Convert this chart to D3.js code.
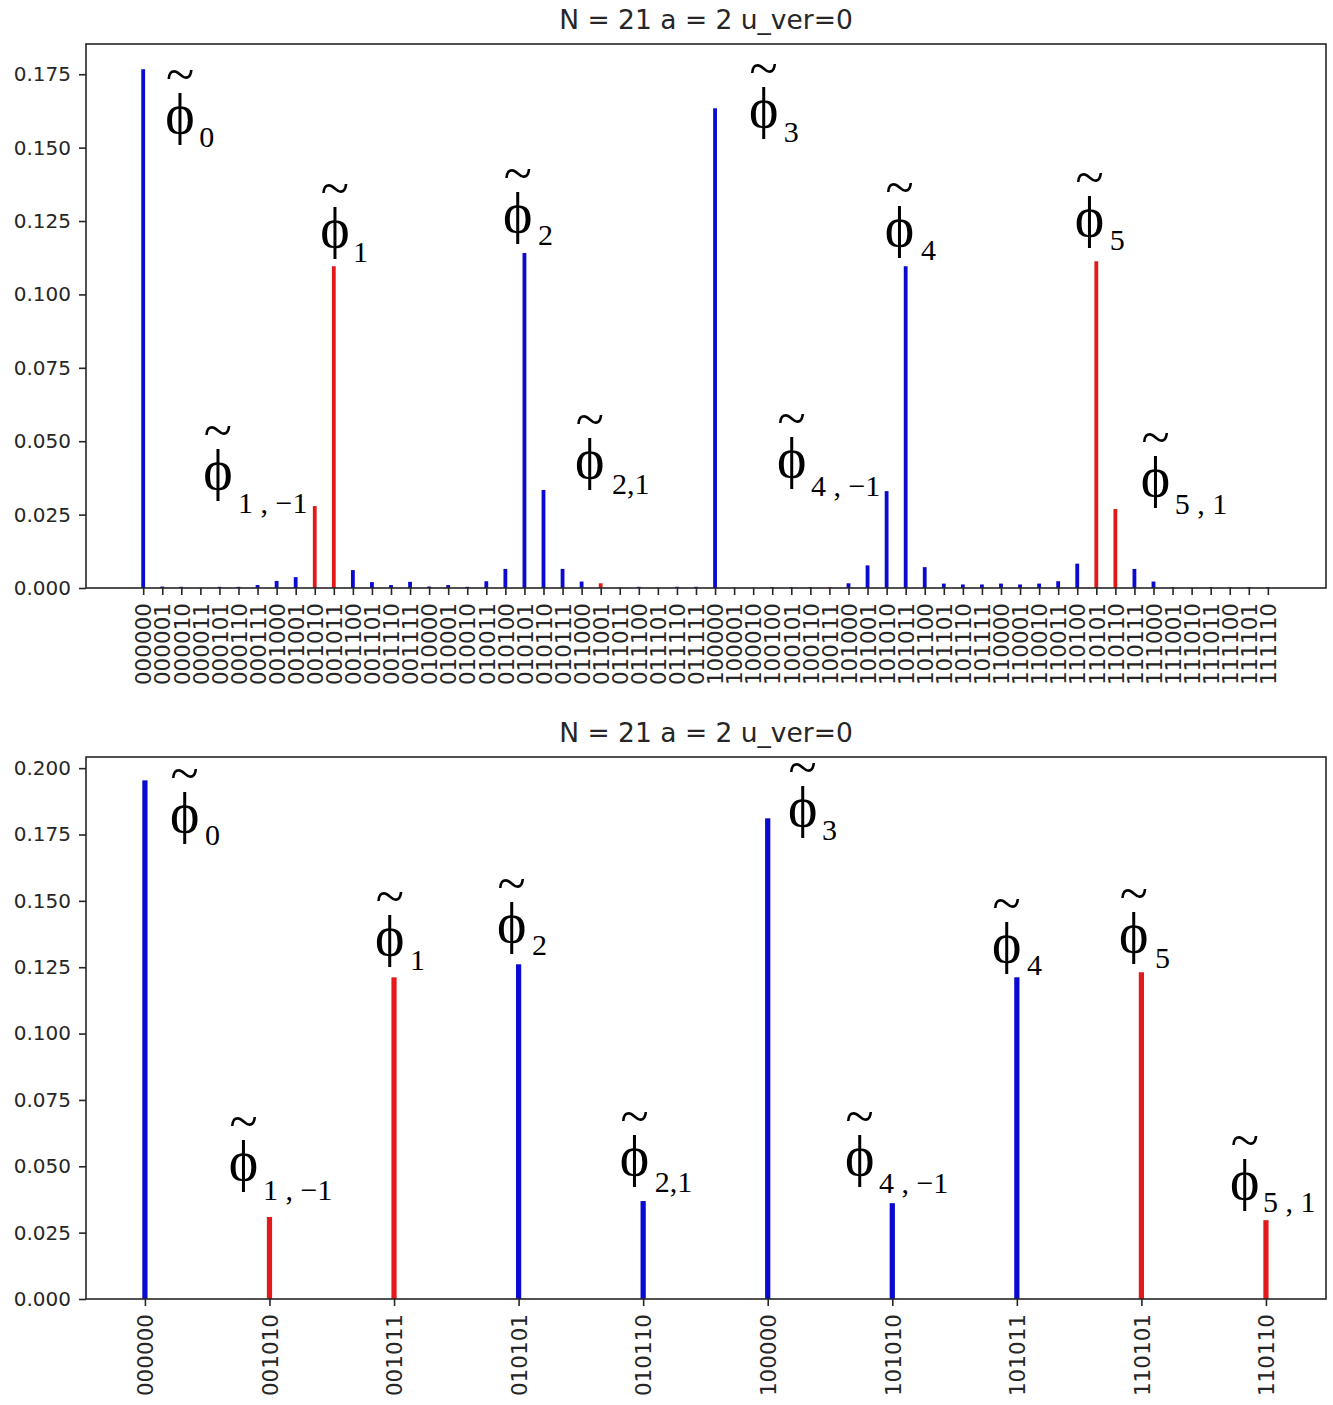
<!DOCTYPE html>
<html>
<head>
<meta charset="utf-8">
<script src="https://cdn.jsdelivr.net/npm/d3@7"></script>
<style>
  html, body { margin: 0; padding: 0; background: #fff; }
  svg { display: block; }
</style>
</head>
<body>
<svg id="chart" width="1333" height="1405"></svg>
<script>
// ---------------- DATA ----------------
const titleText = "N = 21 a = 2 u_ver=0";

const topLabels = [
  "000000","000001","000010","000011","000101","000110","000111","001000","001001","001010",
  "001011","001100","001101","001110","001111","010000","010001","010010","010011","010100",
  "010101","010110","010111","011000","011001","011011","011100","011101","011110","011111",
  "100000","100001","100010","100100","100101","100110","100111","101000","101001","101010",
  "101011","101100","101101","101110","101111","110000","110001","110010","110011","110100",
  "110101","110110","110111","111000","111001","111010","111011","111100","111101","111110"
];
const topValues = [
  0.1767,0.0005,0.0004,0.0001,0.0004,0.0004,0.0010,0.0024,0.0037,0.0279,
  0.1096,0.0061,0.0020,0.0010,0.0021,0.0005,0.0010,0.0004,0.0023,0.0065,
  0.1141,0.0334,0.0065,0.0022,0.0016,0.0001,0.0004,0.0001,0.0004,0.0004,
  0.1634,0.0001,0.0001,0.0003,0.0003,0.0003,0.0003,0.0016,0.0077,0.0330,
  0.1096,0.0071,0.0015,0.0012,0.0012,0.0015,0.0012,0.0015,0.0023,0.0083,
  0.1113,0.0269,0.0065,0.0022,0.0003,0.0001,0.0003,0.0002,0.0003,0.0003
];
const topRedLabels = ["001010","001011","011001","100111","110101","110110"];
const topYTicks = [0,0.025,0.05,0.075,0.1,0.125,0.15,0.175];

const bottomLabels = ["000000","001010","001011","010101","010110","100000","101010","101011","110101","110110"];
const bottomValues = [0.1954,0.0309,0.1212,0.1261,0.0369,0.1811,0.0361,0.1212,0.1231,0.0297];
const bottomRedLabels = ["001010","001011","110101","110110"];
const bottomYTicks = [0,0.025,0.05,0.075,0.1,0.125,0.15,0.175,0.2];

// annotation subscripts and their anchors in data coordinates (x index, y value)
const annSubs = ["0","1 , \u22121","1","2","2,1","3","4 , \u22121","4","5","5 , 1"];
const topAnnX    = [1.26, 3.25, 9.39, 18.98, 22.76, 31.88, 33.35, 39.01, 48.98, 52.44];
const topAnnY    = [0.1549,0.0337,0.1161,0.1212,0.0375,0.1570,0.0378,0.1164,0.1199,0.0313];
const topSubX    = [2.94, 4.98, 11.01, 20.71, 24.59, 33.61, 35.03, 40.80, 50.71, 54.12];
const topSubY    = [0.1502,0.0255,0.1110,0.1168,0.0320,0.1519,0.0313,0.1117,0.1151,0.0252];
const botAnnX    = [0.217,0.690,1.863,2.842,3.829,5.178,5.636,6.816,7.836,8.727];
const botAnnY    = [0.1758,0.0448,0.1295,0.1344,0.0467,0.1781,0.0467,0.1269,0.1306,0.0377];
const botSubX    = [0.482,0.947,2.128,3.107,4.094,5.435,5.893,7.081,8.109,8.976];
const botSubY    = [0.1709,0.0373,0.1239,0.1295,0.0403,0.1728,0.0399,0.1220,0.1246,0.0328];

// ---------------- DRAW ----------------
const svg = d3.select("#chart");
const BLUE = "#0a0ad0", RED = "#e41a1a", AX = "#262626";
const PHI_SIZE = 56, TILDE_SIZE = 52, SUB_SIZE = 30;

// measure phi glyph width
const probe = svg.append("text").attr("font-family", "Liberation Serif")
  .attr("font-size", PHI_SIZE).text("\u03D5");
const phiW = probe.node().getComputedTextLength();
probe.remove();

function panel(cfg) {
  const g = svg.append("g");
  const x = d3.scaleLinear().domain(cfg.xDomain).range([cfg.left, cfg.right]);
  const y = d3.scaleLinear().domain(cfg.yDomain).range([cfg.bottom, cfg.top]);
  const color = d3.scaleOrdinal().domain([false, true]).range([BLUE, RED]);
  const idx = d3.range(cfg.labels.length);

  // bars
  g.append("g").selectAll("rect").data(idx).join("rect")
    .attr("x", i => x(i - cfg.barW / 2))
    .attr("width", i => x(i + cfg.barW / 2) - x(i - cfg.barW / 2))
    .attr("y", i => y(cfg.values[i]))
    .attr("height", i => y(0) - y(cfg.values[i]))
    .attr("fill", i => color(cfg.red.includes(cfg.labels[i])));

  // y axis
  const ya = g.append("g").attr("transform", `translate(${cfg.left},0)`)
    .call(d3.axisLeft(y).tickValues(cfg.yTicks).tickFormat(d3.format(".3f")).tickSize(7).tickPadding(8));
  ya.select(".domain").remove();
  ya.selectAll("line").attr("stroke", AX).attr("stroke-width", 1.6);
  ya.selectAll("text").attr("font-family", "DejaVu Sans").attr("font-size", 20).attr("fill", AX);

  // x axis
  const xa = g.append("g").attr("transform", `translate(0,${cfg.bottom})`)
    .call(d3.axisBottom(x).tickValues(idx).tickFormat(i => cfg.labels[i]).tickSize(7));
  xa.select(".domain").remove();
  xa.selectAll("line").attr("stroke", AX).attr("stroke-width", 1.6);
  xa.selectAll("text")
    .attr("font-family", "DejaVu Sans").attr("font-size", 21.5).attr("fill", AX)
    .attr("transform", "rotate(-90)")
    .attr("x", -15).attr("y", 0).attr("dy", "0.36em")
    .style("text-anchor", "end");

  // frame
  g.append("rect").attr("x", cfg.left).attr("y", cfg.top)
    .attr("width", cfg.right - cfg.left).attr("height", cfg.bottom - cfg.top)
    .attr("fill", "none").attr("stroke", AX).attr("stroke-width", 1.6);

  // title
  g.append("text").attr("x", (cfg.left + cfg.right) / 2).attr("y", cfg.top - 15)
    .attr("text-anchor", "middle").attr("font-family", "DejaVu Sans").attr("font-size", 26.5)
    .attr("fill", AX).text(titleText);

  // annotations: one text element per label (phi, tilde, subscript as tspans)
  const ann = g.append("g").attr("font-family", "Liberation Serif").attr("fill", "#000");
  annSubs.forEach((s, k) => {
    const px = x(cfg.annX[k]) - 2, py = y(cfg.annY[k]);
    const t = ann.append("text").attr("x", px).attr("y", py).style("white-space", "pre");
    t.append("tspan").attr("font-size", PHI_SIZE).text("\u03D5");
    t.append("tspan").attr("x", px + phiW / 2).attr("y", py - 41)
      .attr("text-anchor", "middle").attr("font-size", TILDE_SIZE).text("~");
    t.append("tspan").attr("x", x(cfg.subX[k])).attr("y", y(cfg.subY[k]))
      .attr("text-anchor", "start").attr("font-size", SUB_SIZE).text(s);
  });
}

panel({
  labels: topLabels, values: topValues, red: topRedLabels, yTicks: topYTicks,
  xDomain: [-3.0, 62.05], yDomain: [0, 0.1853], barW: 0.2,
  left: 86, right: 1326, top: 44, bottom: 588,
  annX: topAnnX, annY: topAnnY, subX: topSubX, subY: topSubY
});
panel({
  labels: bottomLabels, values: bottomValues, red: bottomRedLabels, yTicks: bottomYTicks,
  xDomain: [-0.473, 9.482], yDomain: [0, 0.2042], barW: 0.042,
  left: 86, right: 1326, top: 757, bottom: 1299,
  annX: botAnnX, annY: botAnnY, subX: botSubX, subY: botSubY
});
</script>
</body>
</html>
